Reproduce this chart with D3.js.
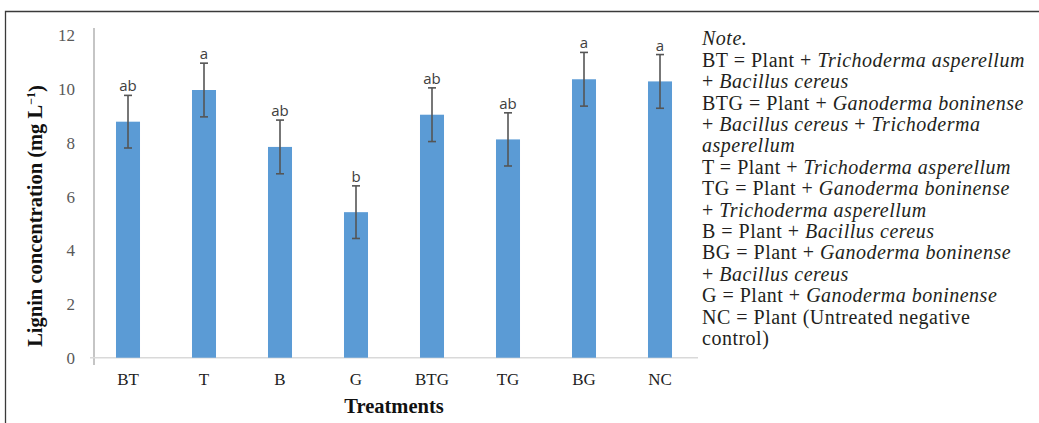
<!DOCTYPE html>
<html>
<head>
<meta charset="utf-8">
<script src="https://cdn.jsdelivr.net/npm/d3@7"></script>
<style>
  html, body { margin: 0; padding: 0; background: #fff; }
  svg { display: block; }
</style>
</head>
<body>
<svg id="chart" width="1039" height="423"></svg>
<script>
// --- Data
const treatments = ["BT", "T", "B", "G", "BTG", "TG", "BG", "NC"]
const lignin = [8.79, 9.97, 7.85, 5.42, 9.05, 8.13, 10.37, 10.29]
const stdErr = [0.98, 1.0, 1.0, 0.98, 1.0, 0.99, 1.0, 1.0]
const groups = ["ab", "a", "ab", "b", "ab", "ab", "a", "a"]
const yTicks = [0, 2, 4, 6, 8, 10, 12]

// note lines: each is a list of [text, italic?]
const noteLines = [
    [["Note.", true]],
    [["BT = Plant + ", false], ["Trichoderma asperellum", true]],
    [["+ ", false], ["Bacillus cereus", true]],
    [["BTG = Plant + ", false], ["Ganoderma boninense", true]],
    [["+ ", false], ["Bacillus cereus", true], [" + ", false], ["Trichoderma", true]],
    [["asperellum", true]],
    [["T = Plant + ", false], ["Trichoderma asperellum", true]],
    [["TG = Plant + ", false], ["Ganoderma boninense", true]],
    [["+ ", false], ["Trichoderma asperellum", true]],
    [["B = Plant + ", false], ["Bacillus cereus", true]],
    [["BG = Plant + ", false], ["Ganoderma boninense", true]],
    [["+ ", false], ["Bacillus cereus", true]],
    [["G = Plant + ", false], ["Ganoderma boninense", true]],
    [["NC = Plant (Untreated negative", false]],
    [["control)", false]]
]

const svg = d3.select("#chart")
const serif = "'Liberation Serif', 'DejaVu Serif', serif"

// frame (top + left only, the rest is cropped in the original)
svg.append("path")
    .attr("d", "M5.5,423 L5.5,11.5 L1039,11.5")
    .attr("fill", "none")
    .attr("stroke", "#3a3a3a")
    .attr("stroke-width", 1.3)

const x = d3.scaleBand().domain(treatments).range([90, 698]).paddingInner(0.684).paddingOuter(0.342)
const y = d3.scaleLinear().domain([0, 12]).range([357.7, 35.5])

// y axis line
svg.append("line")
    .attr("x1", 94).attr("x2", 94)
    .attr("y1", 28).attr("y2", 365)
    .attr("stroke", "#a6a6a6").attr("stroke-width", 1.3)

// baseline
svg.append("line")
    .attr("x1", 90).attr("x2", 698)
    .attr("y1", y(0)).attr("y2", y(0))
    .attr("stroke", "#d9d9d9").attr("stroke-width", 1.5)

// y tick labels
svg.append("g").selectAll("text")
    .data(yTicks)
    .join("text")
    .attr("x", 75)
    .attr("y", d => y(d))
    .attr("dy", "0.35em")
    .attr("text-anchor", "end")
    .style("font-family", serif)
    .style("font-size", "17px")
    .attr("fill", "#595959")
    .text(d => d)

// bars
svg.append("g").selectAll("rect")
    .data(treatments)
    .join("rect")
    .attr("x", d => x(d))
    .attr("width", x.bandwidth())
    .attr("y", (d, i) => y(lignin[i]))
    .attr("height", (d, i) => y(0) - y(lignin[i]))
    .attr("fill", "#5b9bd5")

// error bars
const err = svg.append("g")
    .attr("stroke", "#555")
    .attr("stroke-width", 1.6)
treatments.forEach((t, i) => {
    const cx = x(t) + x.bandwidth() / 2
    const top = y(lignin[i] + stdErr[i])
    const bot = y(lignin[i] - stdErr[i])
    err.append("line").attr("x1", cx).attr("x2", cx).attr("y1", top).attr("y2", bot)
    err.append("line").attr("x1", cx - 4).attr("x2", cx + 4).attr("y1", top).attr("y2", top)
    err.append("line").attr("x1", cx - 4).attr("x2", cx + 4).attr("y1", bot).attr("y2", bot)
})

// significance letters
svg.append("g").selectAll("text")
    .data(treatments)
    .join("text")
    .attr("x", d => x(d) + x.bandwidth() / 2)
    .attr("y", (d, i) => y(lignin[i] + stdErr[i]) - 4)
    .attr("text-anchor", "middle")
    .style("font-family", "'Open Sans', sans-serif")
    .style("font-size", "15px")
    .attr("fill", "#404040")
    .text((d, i) => groups[i])

// x tick labels
svg.append("g").selectAll("text")
    .data(treatments)
    .join("text")
    .attr("x", d => x(d) + x.bandwidth() / 2)
    .attr("y", 379)
    .attr("dy", "0.35em")
    .attr("text-anchor", "middle")
    .style("font-family", serif)
    .style("font-size", "17px")
    .attr("fill", "#222")
    .text(d => d)

// axis titles
svg.append("text")
    .attr("x", 394).attr("y", 406).attr("dy", "0.35em")
    .attr("text-anchor", "middle")
    .style("font-family", serif)
    .style("font-weight", "bold")
    .style("font-size", "20.5px")
    .attr("fill", "#111")
    .text("Treatments")

const yt = svg.append("text")
    .attr("transform", "translate(35,216) rotate(-90)")
    .attr("dy", "0.35em")
    .attr("text-anchor", "middle")
    .style("font-family", serif)
    .style("font-weight", "bold")
    .style("font-size", "20.5px")
    .attr("fill", "#111")
yt.append("tspan").text("Lignin concentration (mg L")
yt.append("tspan").style("font-size", "12px").attr("dy", "-0.6em").text("−1")
yt.append("tspan").attr("dy", "0.4em").text(")")

// note block
const note = svg.append("g")
    .style("font-family", serif)
    .style("font-size", "20px")
    .style("letter-spacing", "0.5px")
    .attr("fill", "#231f20")
noteLines.forEach((parts, i) => {
    const line = note.append("text")
        .attr("x", 702)
        .attr("y", 38.3 + i * 21.4)
        .attr("dy", "0.35em")
    parts.forEach(([txt, it]) => {
        line.append("tspan")
            .style("font-style", it ? "italic" : "normal")
            .text(txt)
    })
})
</script>
</body>
</html>
